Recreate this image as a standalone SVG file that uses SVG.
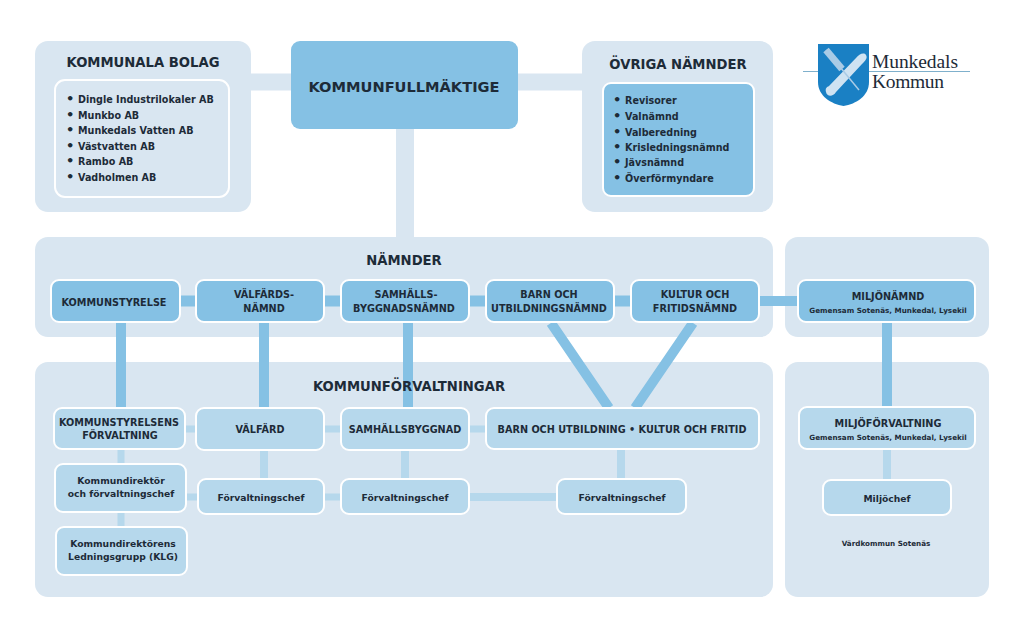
<svg xmlns="http://www.w3.org/2000/svg" width="1024" height="635" viewBox="0 0 1024 635">
<style>
.panel{fill:#d9e6f1}
.dark{fill:#85c1e4;stroke:#fff;stroke-width:2}
.mid{fill:#b6d8ec;stroke:#fff;stroke-width:2}
.inner{fill:#d9e6f1;stroke:#fff;stroke-width:2}
text{font-family:"DejaVu Sans",Verdana,sans-serif;font-weight:700;fill:#1d2b38;text-anchor:middle}
.h{font-size:13.2px}
.t{font-size:9.7px}
.m{font-size:9.2px}
.s{font-size:7.2px}
.l{font-size:9.6px;text-anchor:start}
.b{font-size:13px}
.cd{stroke:#85c1e4;fill:none}
.cm{stroke:#b6d8ec;fill:none}
.cl{stroke:#d9e6f1;fill:none}
</style>
<rect width="1024" height="635" fill="#fff"/>
<g id="panels">
<rect class="panel" x="35" y="41" width="216" height="171" rx="13"/>
<rect class="panel" x="582" y="41" width="191" height="171" rx="13"/>
<rect class="panel" x="35" y="237" width="738" height="100" rx="13"/>
<rect class="panel" x="785" y="237" width="204" height="100" rx="13"/>
<rect class="panel" x="35" y="362" width="738" height="235" rx="13"/>
<rect class="panel" x="785" y="362" width="204" height="235" rx="13"/>
</g>
<g id="connectors">
<path class="cl" stroke-width="17" d="M251 82H291M518 82H582"/>
<path class="cl" stroke-width="18" d="M405 129V237"/>
<path class="cd" stroke-width="11" d="M181 301H196M325 301H341M470 301H486M615 301H631"/>
<path class="cd" stroke-width="10" d="M760 301H798"/>
<path class="cd" stroke-width="10" d="M121 323V407M264 323V407M408 323V407M887 323V407"/>
<path class="cd" stroke-width="10" d="M551 323L609 408M693 323L635 408"/>
<path class="cm" stroke-width="7" d="M186 429H196M325 429H341M470 429H486M121 450V463M121 513V527M186 497H198M325 497H341"/>
<path class="cm" stroke-width="8" d="M264 450V479M405 450V479M621 450V479M887 450V480"/>
<path class="cm" stroke-width="8" d="M470 497H557"/>
</g>
<g id="kommunala-bolag">
<text class="h" x="143" y="67">KOMMUNALA BOLAG</text>
<rect class="inner" x="55" y="80" width="174" height="117" rx="10"/>
<text class="l" y="103"><tspan class="b" x="66">•</tspan><tspan x="78">Dingle Industrilokaler AB</tspan></text>
<text class="l" y="119"><tspan class="b" x="66">•</tspan><tspan x="78">Munkbo AB</tspan></text>
<text class="l" y="134"><tspan class="b" x="66">•</tspan><tspan x="78">Munkedals Vatten AB</tspan></text>
<text class="l" y="150"><tspan class="b" x="66">•</tspan><tspan x="78">Västvatten AB</tspan></text>
<text class="l" y="165"><tspan class="b" x="66">•</tspan><tspan x="78">Rambo AB</tspan></text>
<text class="l" y="181"><tspan class="b" x="66">•</tspan><tspan x="78">Vadholmen AB</tspan></text>
</g>
<g id="kommunfullmaktige">
<rect x="291" y="41" width="227" height="88" rx="9" fill="#85c1e4"/>
<text x="404" y="92" font-size="14.6">KOMMUNFULLMÄKTIGE</text>
</g>
<g id="ovriga-namnder">
<text class="h" x="678" y="69">ÖVRIGA NÄMNDER</text>
<rect class="dark" x="603" y="83" width="151" height="113" rx="8"/>
<text class="l" y="104"><tspan class="b" x="613">•</tspan><tspan x="625">Revisorer</tspan></text>
<text class="l" y="120"><tspan class="b" x="613">•</tspan><tspan x="625">Valnämnd</tspan></text>
<text class="l" y="136"><tspan class="b" x="613">•</tspan><tspan x="625">Valberedning</tspan></text>
<text class="l" y="151"><tspan class="b" x="613">•</tspan><tspan x="625">Krisledningsnämnd</tspan></text>
<text class="l" y="166"><tspan class="b" x="613">•</tspan><tspan x="625">Jävsnämnd</tspan></text>
<text class="l" y="182"><tspan class="b" x="613">•</tspan><tspan x="625">Överförmyndare</tspan></text>
</g>
<g id="logo">
<path d="M803 71.500H970" stroke="#7fb0cc" stroke-width="1" fill="none"/>
<path d="M818 44H869V82C869 96 856 104 843.500 106C831 104 818 96 818 82Z" fill="#1a80c4"/>
<path d="M829 86L856 58C859 54 864 52 866 55C868 58 865 61 862 64L836 92C833 97 827 97 826 92C825 88 827 87 829 86Z" fill="#cfe3f2"/>
<path d="M826 50L859 90" stroke="#a9cbe6" stroke-width="1.500" fill="none"/>
<path d="M826 50L842 69" stroke="#a9cbe6" stroke-width="7" fill="none"/>
<text x="872" y="68" font-size="19.500" style="font-family:'Liberation Serif',serif;font-weight:400;text-anchor:start" textLength="86" fill="#222">Munkedals</text>
<text x="872" y="88" font-size="19.500" style="font-family:'Liberation Serif',serif;font-weight:400;text-anchor:start" textLength="72" fill="#222">Kommun</text>
</g>
<text class="h" x="404" y="265">NÄMNDER</text>
<g id="kommunstyrelse"><rect class="dark" x="51" y="280" width="129" height="42" rx="8"/><text class="t" x="114" y="306">KOMMUNSTYRELSE</text></g>
<g id="valfardsnamnd"><rect class="dark" x="196" y="280" width="128" height="42" rx="8"/><text class="t" x="264" y="298">VÄLFÄRDS-</text><text class="t" x="264" y="312">NÄMND</text></g>
<g id="samhallsbyggnadsnamnd"><rect class="dark" x="341" y="280" width="128" height="42" rx="8"/><text class="t" x="406" y="298">SAMHÄLLS-</text><text class="t" x="404" y="312">BYGGNADSNÄMND</text></g>
<g id="barn-utbildningsnamnd"><rect class="dark" x="486" y="280" width="128" height="42" rx="8"/><text class="t" x="549" y="298">BARN OCH</text><text class="t" x="549" y="312">UTBILDNINGSNÄMND</text></g>
<g id="kultur-fritidsnamnd"><rect class="dark" x="631" y="280" width="128" height="42" rx="8"/><text class="t" x="695" y="298">KULTUR OCH</text><text class="t" x="695" y="312">FRITIDSNÄMND</text></g>
<g id="miljonamnd"><rect class="dark" x="798" y="280" width="177" height="42" rx="8"/><text class="t" x="888" y="300">MILJÖNÄMND</text><text class="s" x="888" y="313">Gemensam Sotenäs, Munkedal, Lysekil</text></g>
<text class="h" x="409" y="391">KOMMUNFÖRVALTNINGAR</text>
<g id="ks-forvaltning"><rect class="mid" x="54" y="408" width="131" height="41" rx="8"/><text class="t" x="119" y="426">KOMMUNSTYRELSENS</text><text class="t" x="120" y="439">FÖRVALTNING</text></g>
<g id="valfard"><rect class="mid" x="196" y="408" width="128" height="42" rx="8"/><text class="t" x="260" y="433">VÄLFÄRD</text></g>
<g id="samhallsbyggnad"><rect class="mid" x="341" y="408" width="128" height="42" rx="8"/><text class="t" x="405" y="433">SAMHÄLLSBYGGNAD</text></g>
<g id="barn-kultur"><rect class="mid" x="486" y="408" width="273" height="41" rx="8"/><text class="t" x="622" y="433">BARN OCH UTBILDNING • KULTUR OCH FRITID</text></g>
<g id="miljoforvaltning"><rect class="mid" x="799" y="407" width="176" height="42" rx="8"/><text class="t" x="888" y="427">MILJÖFÖRVALTNING</text><text class="s" x="888" y="440">Gemensam Sotenäs, Munkedal, Lysekil</text></g>
<g id="kommundirektor"><rect class="mid" x="55" y="464" width="131" height="48" rx="8"/><text class="m" x="121" y="484">Kommundirektör</text><text class="m" x="121" y="497">och förvaltningschef</text></g>
<g id="forvaltningschef-1"><rect class="mid" x="198" y="479" width="126" height="35" rx="8"/><text class="m" x="261" y="501">Förvaltningschef</text></g>
<g id="forvaltningschef-2"><rect class="mid" x="341" y="479" width="128" height="35" rx="8"/><text class="m" x="405" y="501">Förvaltningschef</text></g>
<g id="forvaltningschef-3"><rect class="mid" x="557" y="479" width="129" height="35" rx="8"/><text class="m" x="622" y="501">Förvaltningschef</text></g>
<g id="miljochef"><rect class="mid" x="823" y="480" width="128" height="35" rx="8"/><text class="m" x="887" y="502">Miljöchef</text></g>
<g id="klg"><rect class="mid" x="56" y="527" width="131" height="48" rx="8"/><text class="m" x="123" y="547">Kommundirektörens</text><text class="m" x="123" y="560">Ledningsgrupp (KLG)</text></g>
<text class="s" x="886" y="546">Värdkommun Sotenäs</text>
</svg>
